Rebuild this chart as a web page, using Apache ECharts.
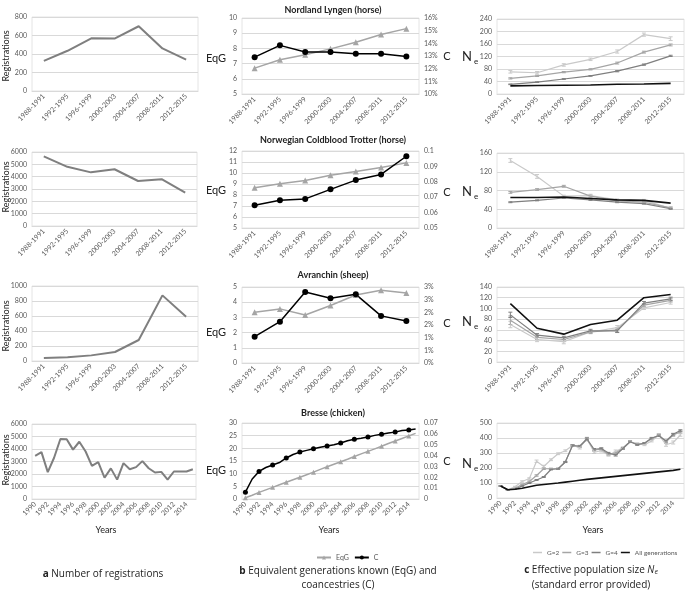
<!DOCTYPE html>
<html>
<head>
<meta charset="utf-8">
<script src="https://cdn.jsdelivr.net/npm/echarts@6/dist/echarts.min.js"></script>
<style>
html, body { margin: 0; padding: 0; background: #fff; }
#main { width: 685px; height: 591px; }
</style>
</head>
<body>
<div id="main"></div>
<script>
// categories
var periods = ['1988-1991', '1992-1995', '1996-1999', '2000-2003', '2004-2007', '2008-2011', '2012-2015'];
var years = ['1990', '1991', '1992', '1993', '1994', '1995', '1996', '1997', '1998', '1999', '2000', '2001', '2002',
             '2003', '2004', '2005', '2006', '2007', '2008', '2009', '2010', '2011', '2012', '2013', '2014', '2015'];

// a - registrations
var regNordland = [325, 435, 570, 568, 700, 460, 340];
var regTrotter = [5650, 4800, 4350, 4600, 3650, 3800, 2700];
var regAvranchin = [40, 50, 75, 120, 280, 875, 590];
var regBresse = [3450, 3750, 2150, 3300, 4800, 4780, 3950, 4580, 3800, 2650, 2950, 1700, 2450, 1550, 2870, 2380,
                 2550, 3030, 2460, 2120, 2170, 1550, 2200, 2200, 2200, 2380];

// b - equivalent generations (EqG) and coancestry (C)
var eqgNordland = [6.7, 7.25, 7.58, 7.97, 8.41, 8.92, 9.3];
var cNordland = [0.1291, 0.1384, 0.1331, 0.1331, 0.1317, 0.1317, 0.1296];
var eqgTrotter = [8.66, 9.02, 9.32, 9.8, 10.14, 10.5, 10.92];
var cTrotter = [0.0648, 0.068, 0.0689, 0.0751, 0.0811, 0.0848, 0.0966];
var eqgAvranchin = [3.34, 3.56, 3.16, 3.78, 4.47, 4.78, 4.6];
var cAvranchin = [0.0104, 0.0163, 0.028, 0.0256, 0.0271, 0.0186, 0.0166];
var eqgBresse = [0.5, 1.5, 2.6, 3.6, 4.6, 5.6, 6.6, 7.6, 8.6, 9.6, 10.6, 11.7, 12.7, 13.7, 14.7, 15.7, 16.8, 17.8,
                 18.8, 19.8, 20.8, 21.9, 22.9, 23.9, 24.9, 25.9];
var cBresse = [0.0063, 0.0184, 0.0254, 0.029, 0.0313, 0.0336, 0.0378, 0.041, 0.0432, 0.0448, 0.0462, 0.0476, 0.0488,
               0.0499, 0.0516, 0.0537, 0.0551, 0.056, 0.0572, 0.0586, 0.0597, 0.0607, 0.0616, 0.063, 0.0635, 0.0644];

// c - effective population size, with standard errors
var neNordG2 = [71, 68, 93, 111, 136, 190, 177];
var seNordG2 = [4, 4, 4, 4, 5, 5, 6];
var neNordG3 = [50, 58, 70, 79, 99, 134, 157];
var seNordG3 = [2, 2, 2, 2, 3, 3, 3];
var neNordG4 = [31, 38, 48, 58, 73, 94, 122];
var seNordG4 = [1, 1, 1, 1, 2, 2, 2];
var neNordAll = [26, 27, 28, 29, 31, 32, 34];

var neTrotG2 = [144, 110, 68, 69, 60, 59, 42];
var seTrotG2 = [4, 4, 2, 3, 2, 2, 2];
var neTrotG3 = [76, 82, 89, 68, 58, 55, 43];
var seTrotG3 = [2, 2, 2, 2, 2, 2, 2];
var neTrotG4 = [55, 59, 64, 60, 55, 52, 41];
var seTrotG4 = [1, 1, 1, 1, 1, 1, 1];
var neTrotAll = [65, 65, 66, 63, 60, 59, 53];

var neAvrG2 = [70, 42, 38, 56, 64, 101, 111];
var seAvrG2 = [6, 4, 4, 3, 4, 3, 3];
var neAvrG3 = [78, 46, 42, 56, 60, 106, 115];
var seAvrG3 = [8, 4, 4, 3, 4, 3, 3];
var neAvrG4 = [88, 50, 45, 58, 58, 110, 118];
var seAvrG4 = [5, 3, 3, 3, 3, 3, 3];
var neAvrAll = [109, 63, 52, 70, 78, 120, 126];

var neBreG2 = [80, 55, 75, 110, 130, 245, 210, 255, 295, 315, 350, 335, 395, 305, 315, 285, 310, 335, 375, 360,
               355, 380, 420, 355, 370, 420];
var seBreG2 = [0, 0, 3, 5, 5, 8, 8, 6, 6, 6, 6, 8, 10, 8, 8, 6, 10, 6, 6, 6, 6, 6, 8, 10, 10, 8];
var neBreG3 = [80, 55, 65, 90, 110, 150, 195, 195, 195, 240, 350, 345, 390, 320, 325, 290, 300, 330, 375, 360,
               365, 395, 420, 375, 420, 440];
var seBreG3 = [0, 0, 2, 3, 4, 5, 5, 4, 4, 4, 5, 6, 8, 6, 6, 5, 6, 5, 5, 5, 5, 5, 6, 8, 8, 6];
var neBreG4 = [80, 55, 60, 80, 100, 120, 140, 190, 195, 240, 350, 345, 395, 325, 330, 300, 285, 330, 375, 355,
               365, 400, 415, 380, 425, 450];
var seBreG4 = [0, 0, 1, 2, 3, 3, 3, 3, 3, 3, 4, 5, 6, 5, 5, 4, 5, 4, 4, 4, 4, 4, 5, 6, 6, 5];
var neBreAll = [80, 55, 58, 65, 75, 85, 90, 95, 100, 106, 112, 118, 124, 129, 134, 139, 144, 149, 154, 159,
                164, 169, 174, 179, 184, 192];

var FONT = 'Lato, "Open Sans", sans-serif';
var LABEL = '#595959', GRIDC = '#d9d9d9';
var colG2 = '#c9c9c9', colG3 = '#a5a5a5', colG4 = '#7f7f7f', colAll = '#111111';

var myChart = echarts.init(document.getElementById('main'));

var grids = [], xAxes = [], yAxes = [], series = [];

function addPanel(left, top, width, height, cats) {
    grids.push({ left: left, top: top, width: width, height: height, show: true,
                 borderColor: '#e4e4e4', borderWidth: 1, backgroundColor: 'transparent' });
    var gi = grids.length - 1;
    xAxes.push({
        type: 'category', gridIndex: gi, data: cats, boundaryGap: true,
        axisLine: { lineStyle: { color: GRIDC } }, axisTick: { show: false },
        axisLabel: { rotate: 45, fontSize: 7, color: LABEL, fontFamily: FONT, margin: 4,
                     interval: cats.length > 10 ? 1 : 0 }
    });
    return gi;
}

var plain = function (v) { return String(parseFloat(v.toFixed(6))); };

function addY(gi, min, max, interval, right, fmt) {
    yAxes.push({
        type: 'value', gridIndex: gi, min: min, max: max, interval: interval,
        position: right ? 'right' : 'left',
        axisLine: { show: false }, axisTick: { show: false },
        splitLine: { show: !right, lineStyle: { color: GRIDC } },
        axisLabel: { fontSize: 7, color: LABEL, fontFamily: FONT, margin: 5, formatter: fmt || plain }
    });
    return yAxes.length - 1;
}

function line(name, gi, yi, data, color, width, symbol, size) {
    series.push({
        name: name, type: 'line', xAxisIndex: gi, yAxisIndex: yi, data: data,
        lineStyle: { color: color, width: width }, itemStyle: { color: color },
        symbol: symbol || 'none', symbolSize: size || 0, showSymbol: !!symbol, z: 4
    });
}

function errorBars(gi, yi, vals, se, color) {
    series.push({
        type: 'custom', xAxisIndex: gi, yAxisIndex: yi, z: 3,
        encode: { x: 0, y: [1, 2] },
        data: vals.map(function (v, i) { return [i, v - se[i], v + se[i]]; }),
        renderItem: function (params, api) {
            var lo = api.coord([api.value(0), api.value(1)]);
            var hi = api.coord([api.value(0), api.value(2)]);
            var st = { stroke: color, lineWidth: 1 };
            return { type: 'group', children: [
                { type: 'line', shape: { x1: lo[0], y1: lo[1], x2: hi[0], y2: hi[1] }, style: st },
                { type: 'line', shape: { x1: lo[0] - 2, y1: lo[1], x2: lo[0] + 2, y2: lo[1] }, style: st },
                { type: 'line', shape: { x1: hi[0] - 2, y1: hi[1], x2: hi[0] + 2, y2: hi[1] }, style: st }
            ] };
        }
    });
}

var pct = function (v) { return Math.round(v * 100) + '%'; };

// column a
var aBox = [[32, 17, 166, 74], [32, 152, 165, 74], [32, 286, 166, 75], [32, 424, 164, 75]];
var aData = [regNordland, regTrotter, regAvranchin, regBresse];
var aRange = [[0, 800, 200], [0, 6000, 1000], [0, 1000, 200], [0, 6000, 1000]];
for (var r = 0; r < 4; r++) {
    var gi = addPanel(aBox[r][0], aBox[r][1], aBox[r][2], aBox[r][3], r < 3 ? periods : years);
    var yi = addY(gi, aRange[r][0], aRange[r][1], aRange[r][2], false);
    line('Registrations', gi, yi, aData[r], '#7f7f7f', 2);
}

// column b
var bBox = [[242, 18, 177, 76], [242, 151, 177, 77], [242, 287, 177, 76], [242, 423, 177, 76]];
var bEq = [eqgNordland, eqgTrotter, eqgAvranchin, eqgBresse];
var bC = [cNordland, cTrotter, cAvranchin, cBresse];
var bLeft = [[5, 10, 1], [5, 12, 1], [0, 5, 1], [0, 30, 5]];
var bRight = [[0.10, 0.16, 0.01, pct], [0.05, 0.1, 0.01], [0, 0.03, 0.005, pct], [0, 0.07, 0.01]];
for (var r = 0; r < 4; r++) {
    var gi = addPanel(bBox[r][0], bBox[r][1], bBox[r][2], bBox[r][3], r < 3 ? periods : years);
    var yl = addY(gi, bLeft[r][0], bLeft[r][1], bLeft[r][2], false);
    var yr = addY(gi, bRight[r][0], bRight[r][1], bRight[r][2], true, bRight[r][3]);
    var sz = r < 3 ? 6 : 5;
    line('EqG', gi, yl, bEq[r], '#a5a5a5', 1.5, 'triangle', sz);
    line('C', gi, yr, bC[r], '#000000', 1.5, 'circle', sz);
}

// column c
var cBox = [[497, 19, 187, 75], [497, 153, 187, 75], [497, 287, 187, 75], [497, 423, 187, 75]];
var cRange = [[0, 240, 40], [0, 160, 40], [0, 140, 20], [0, 500, 100]];
var cSets = [
    [neNordG2, seNordG2, neNordG3, seNordG3, neNordG4, seNordG4, neNordAll],
    [neTrotG2, seTrotG2, neTrotG3, seTrotG3, neTrotG4, seTrotG4, neTrotAll],
    [neAvrG2, seAvrG2, neAvrG3, seAvrG3, neAvrG4, seAvrG4, neAvrAll],
    [neBreG2, seBreG2, neBreG3, seBreG3, neBreG4, seBreG4, neBreAll]
];
for (var r = 0; r < 4; r++) {
    var gi = addPanel(cBox[r][0], cBox[r][1], cBox[r][2], cBox[r][3], r < 3 ? periods : years);
    var yi = addY(gi, cRange[r][0], cRange[r][1], cRange[r][2], false);
    var s = cSets[r];
    line('G=2', gi, yi, s[0], colG2, 1.2);
    errorBars(gi, yi, s[0], s[1], colG2);
    line('G=3', gi, yi, s[2], colG3, 1.2);
    errorBars(gi, yi, s[2], s[3], colG3);
    line('G=4', gi, yi, s[4], colG4, 1.2);
    errorBars(gi, yi, s[4], s[5], colG4);
    line('All generations', gi, yi, s[6], colAll, 1.6);
}

// text elements
var graphics = [];
function txt(x, y, text, size, extra) {
    var st = { text: text, fontSize: size, fontFamily: FONT, fill: '#222', align: 'center', verticalAlign: 'middle' };
    for (var k in extra) st[k] = extra[k];
    graphics.push({ type: 'text', x: x, y: y, style: st });
    return graphics[graphics.length - 1];
}
var titles = ['Nordland Lyngen (horse)', 'Norwegian Coldblood Trotter (horse)', 'Avranchin (sheep)', 'Bresse (chicken)'];
var titleY = [10, 140, 275, 413];
var regY = [56, 187, 326, 460], eqY = [58, 190, 332, 470], cY = [56, 192, 323, 461], neY = [57, 192, 322, 464];
for (var r = 0; r < 4; r++) {
    txt(333, titleY[r], titles[r], 9, { fontWeight: 'bold' });
    var g = txt(6, regY[r], 'Registrations', 9, {});
    g.rotation = Math.PI / 2;
    txt(216, eqY[r], 'EqG', 11, {});
    txt(447, cY[r], 'C', 11, {});
    txt(467, neY[r], 'N', 13, {});
    txt(476, neY[r] + 4, 'e', 8, {});
}
txt(106, 530, 'Years', 9, {});
txt(329, 530, 'Years', 9, {});
txt(593, 530, 'Years', 9, {});

var CAP = '"Open Sans", Lato, sans-serif';
txt(103, 574, '{b|a} Number of registrations', 10, { fontFamily: CAP, rich: { b: { fontWeight: 'bold', fontSize: 10, fontFamily: CAP } } });
txt(338, 571, '{b|b} Equivalent generations known (EqG) and', 10, { fontFamily: CAP, rich: { b: { fontWeight: 'bold', fontSize: 10, fontFamily: CAP } } });
txt(338, 585, 'coancestries (C)', 10, { fontFamily: CAP });
txt(591, 570, '{b|c} Effective population size {i|N}{s|e}', 10, { fontFamily: CAP, rich: {
    b: { fontWeight: 'bold', fontSize: 10, fontFamily: CAP },
    i: { fontStyle: 'italic', fontSize: 10, fontFamily: CAP },
    s: { fontStyle: 'italic', fontSize: 7, fontFamily: CAP, verticalAlign: 'bottom', padding: [4, 0, 0, 0] } } });
txt(591, 585, '(standard error provided)', 10, { fontFamily: CAP });

var option = {
    animation: false,
    backgroundColor: '#ffffff',
    grid: grids,
    xAxis: xAxes,
    yAxis: yAxes,
    legend: [
        { data: ['EqG', 'C'], left: 311, top: 549, width: 120, itemWidth: 14, itemHeight: 5, itemGap: 5,
          textStyle: { fontSize: 7, color: LABEL, fontFamily: FONT } },
        { data: ['G=2', 'G=3', 'G=4', 'All generations'], left: 533, top: 549, width: 200, icon: 'rect',
          itemWidth: 9, itemHeight: 1.5, itemGap: 3, padding: 0,
          textStyle: { fontSize: 6.5, color: LABEL, fontFamily: FONT } }
    ],
    graphic: graphics,
    series: series
};
myChart.setOption(option);
</script>
</body>
</html>
